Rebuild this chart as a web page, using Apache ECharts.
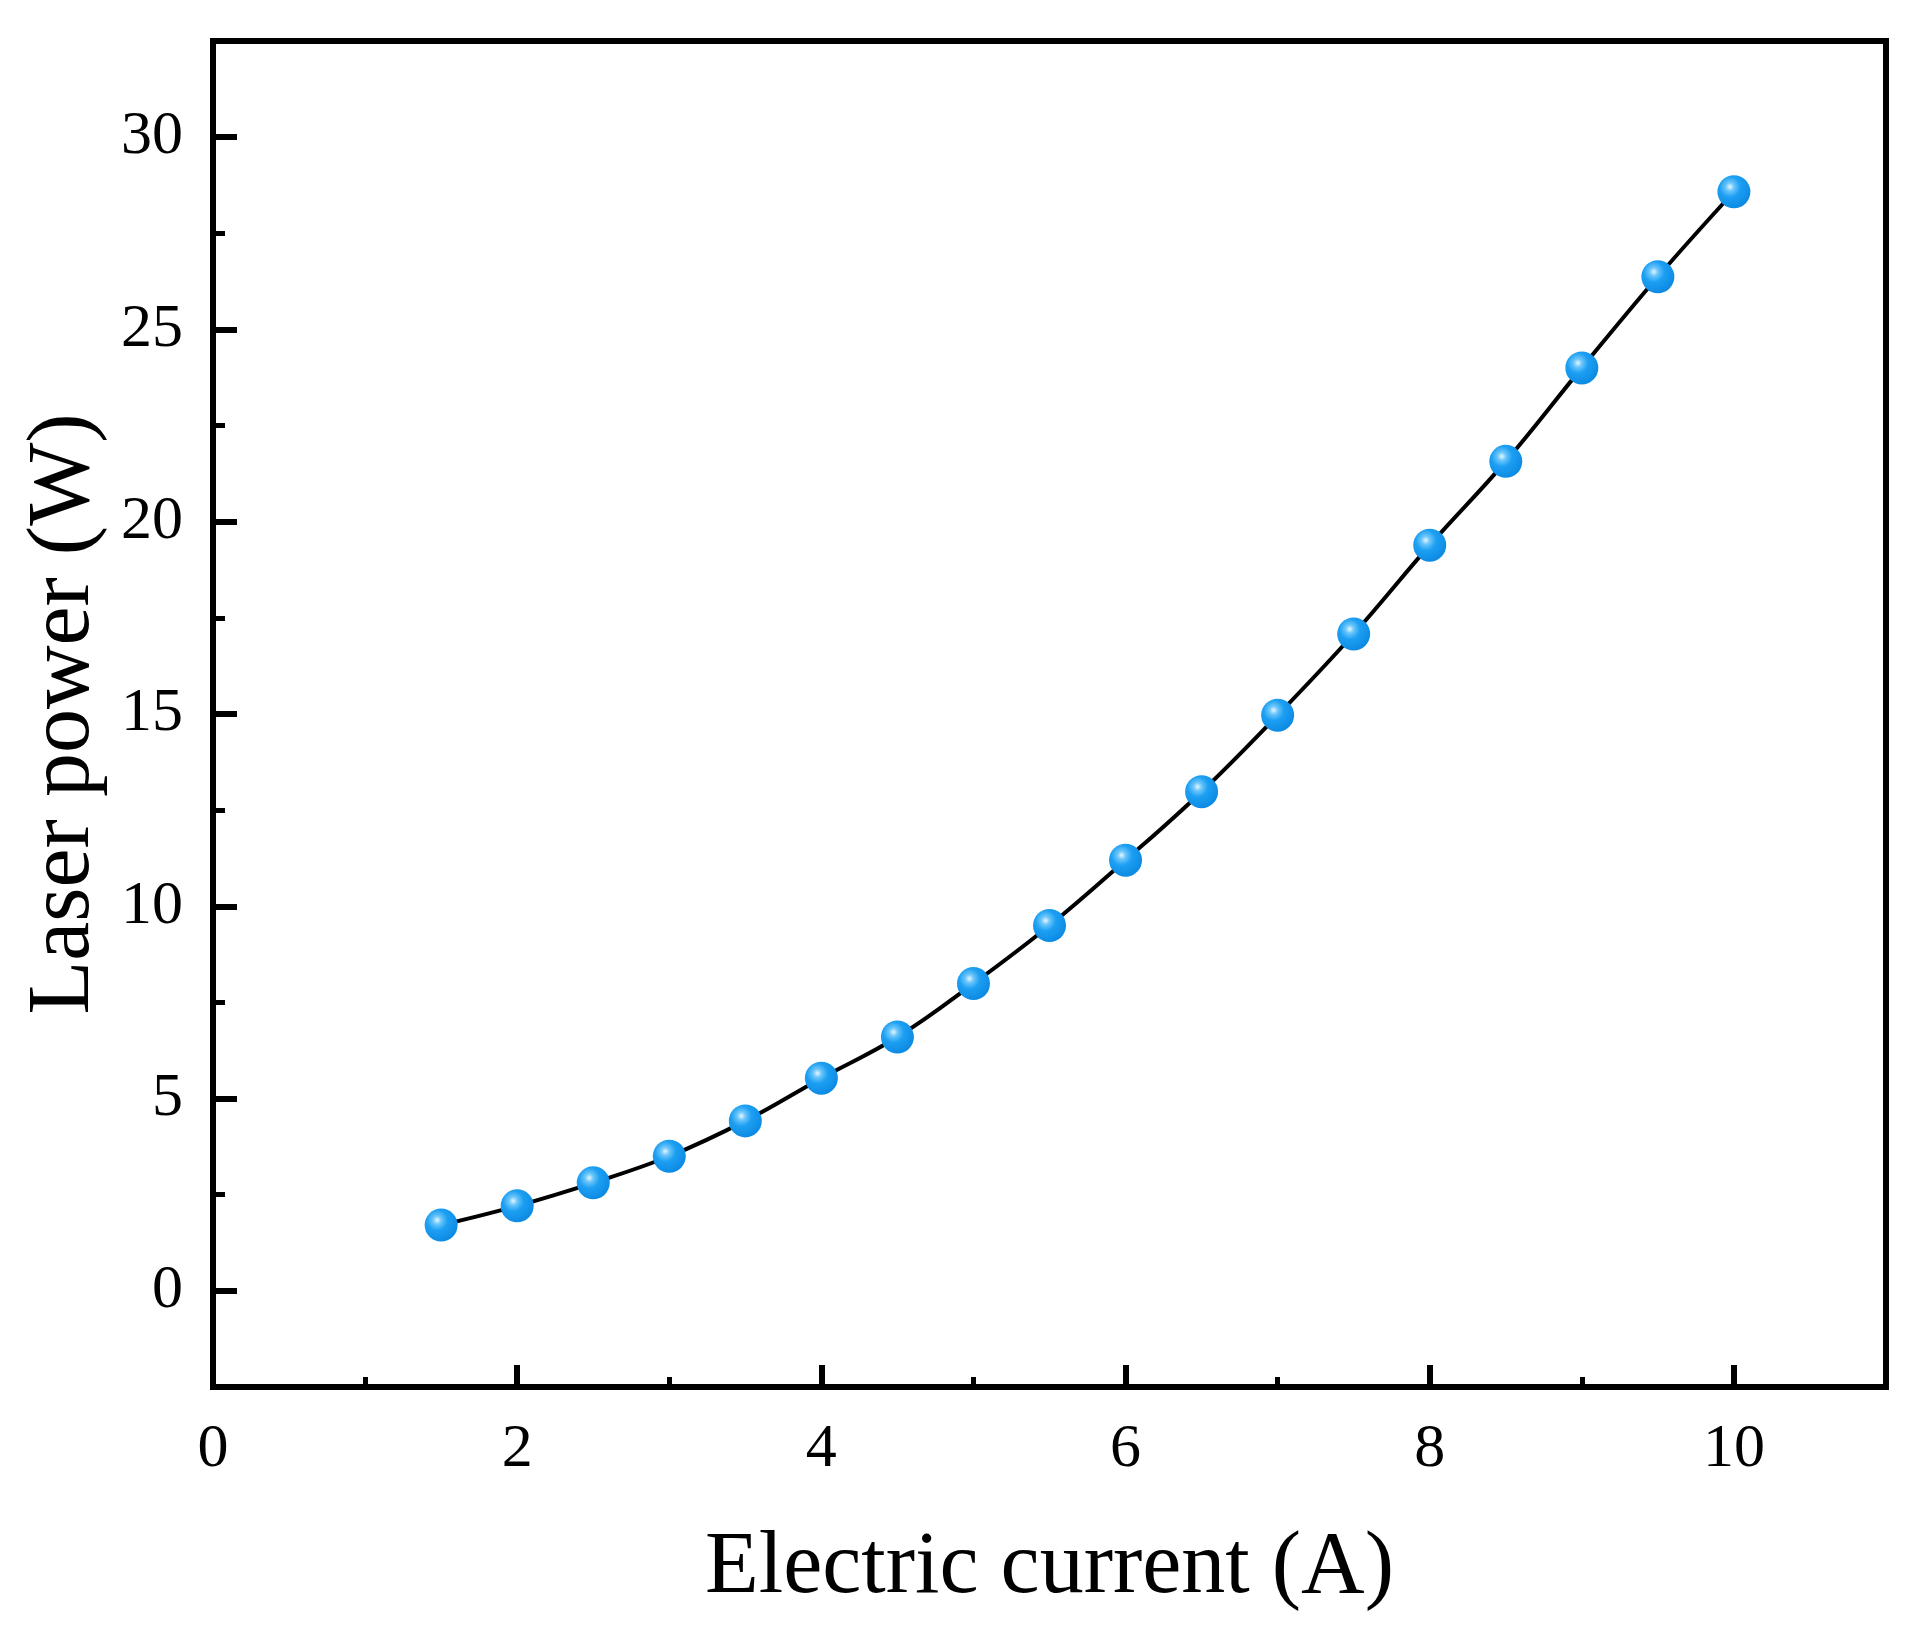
<!DOCTYPE html>
<html lang="en">
<head>
    <meta charset="UTF-8">
    <title>Laser power vs electric current</title>
    <style>
        html, body { margin: 0; padding: 0; background: #fff; }
        #chart { width: 1908px; height: 1641px; }
    </style>
</head>
<body>
<div id="chart"></div>
<script src="https://cdn.jsdelivr.net/npm/echarts@6/dist/echarts.min.js"></script>
<script>
    // data
    var current = [1.5, 2, 2.5, 3, 3.5, 4, 4.5, 5, 5.5, 6, 6.5, 7, 7.5, 8, 8.5, 9, 9.5, 10];
    var power = [1.71, 2.21, 2.81, 3.5, 4.42, 5.53, 6.6, 7.99, 9.5, 11.2, 12.98, 14.97, 17.08, 19.39, 21.57, 24.0, 26.37, 28.58];

    // y ticks: labelled majors and unlabelled minors between them
    var yMajor = [0, 5, 10, 15, 20, 25, 30];
    var yMinor = [-2.5, 2.5, 7.5, 12.5, 17.5, 22.5, 27.5, 32.5];

    var xName = 'Electric current (A)';
    var yName = 'Laser power (W)';
    var serif = '"Liberation Serif", "Times New Roman", serif';

    var points = [];
    for (var i = 0; i < current.length; i++) {
        points.push([current[i], power[i]]);
    }

    var ball = new echarts.graphic.RadialGradient(0.38, 0.35, 0.7, [
        { offset: 0, color: '#e6f6ff' },
        { offset: 0.18, color: '#6cc6fb' },
        { offset: 0.45, color: '#1c9ff2' },
        { offset: 1, color: '#0b88e2' }
    ]);

    var myChart = echarts.init(document.getElementById('chart'));
    var option = {
        backgroundColor: '#fff',
        animation: false,
        grid: {
            left: 213, right: 22, top: 41, bottom: 254,
            show: true, borderColor: '#000', borderWidth: 6
        },
        xAxis: {
            type: 'value',
            min: 0, max: 11, interval: 2,
            name: xName,
            nameLocation: 'middle',
            nameGap: 138,
            nameTextStyle: { fontFamily: serif, fontSize: 88, color: '#000' },
            axisLine: { onZero: false, lineStyle: { color: '#000', width: 6 } },
            axisTick: { inside: true, length: 22, lineStyle: { color: '#000', width: 6 } },
            minorTick: { show: true, splitNumber: 2, length: 10, lineStyle: { color: '#000', width: 5 } },
            axisLabel: {
                margin: 32, fontFamily: serif, fontSize: 62, color: '#000',
                formatter: function (v) { return v > 10 ? '' : v; }
            },
            splitLine: { show: false }
        },
        yAxis: [{
            type: 'value',
            min: -2.5, max: 32.5,
            name: yName,
            nameLocation: 'middle',
            nameGap: 104,
            nameTextStyle: { fontFamily: serif, fontSize: 88, color: '#000' },
            axisLine: { onZero: false, lineStyle: { color: '#000', width: 6 } },
            axisTick: { inside: true, length: 24, customValues: yMajor, lineStyle: { color: '#000', width: 6 } },
            axisLabel: {
                margin: 30, fontFamily: serif, fontSize: 62, color: '#000',
                customValues: yMajor
            },
            splitLine: { show: false }
        }, {
            // second copy of the left axis, only for the minor ticks
            type: 'value',
            position: 'left',
            min: -2.5, max: 32.5,
            axisLine: { show: false },
            axisTick: { inside: true, length: 12, customValues: yMinor, lineStyle: { color: '#000', width: 5 } },
            axisLabel: { show: false },
            splitLine: { show: false }
        }],
        series: [{
            type: 'line',
            data: points,
            smooth: 0.4,
            symbol: 'circle',
            symbolSize: 33,
            lineStyle: { color: '#000', width: 4 },
            itemStyle: { color: ball, borderWidth: 0 },
            z: 3
        }]
    };
    myChart.setOption(option);
</script>
</body>
</html>
